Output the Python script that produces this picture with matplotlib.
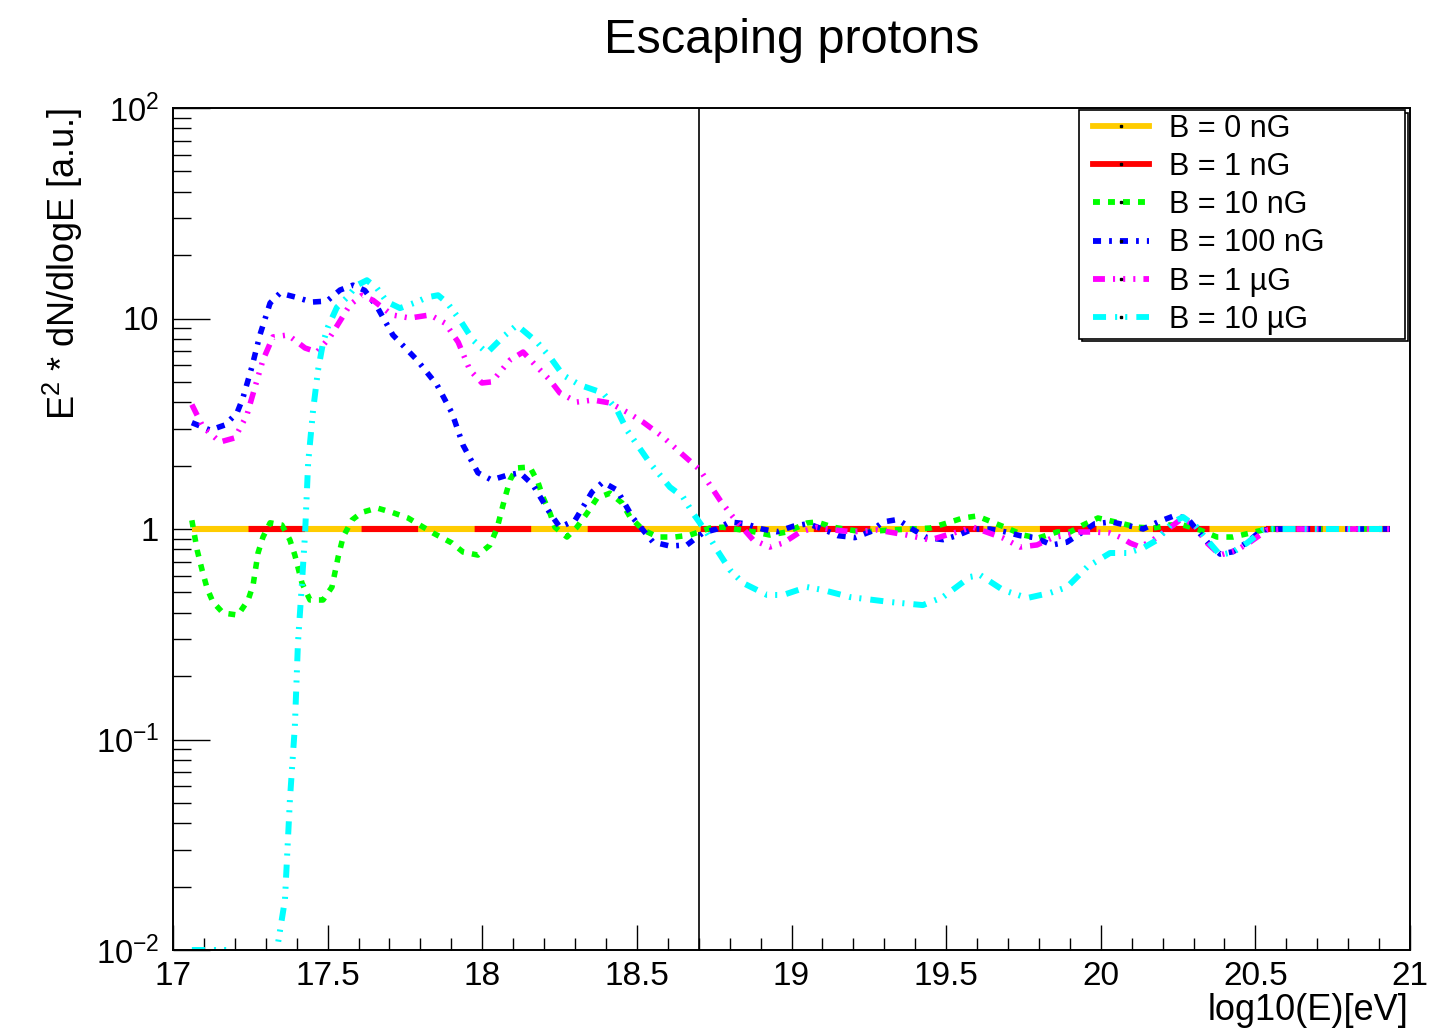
import matplotlib
matplotlib.use("Agg")
import matplotlib.pyplot as plt
from matplotlib.lines import Line2D
from matplotlib.legend_handler import HandlerLine2D
from matplotlib.ticker import FixedLocator, FixedFormatter, LogLocator, NullFormatter

plt.rcParams['font.family'] = ['Liberation Sans', 'DejaVu Sans']
plt.rcParams['mathtext.fontset'] = 'custom'
plt.rcParams['mathtext.rm'] = 'Liberation Sans'
plt.rcParams['mathtext.it'] = 'Liberation Sans:italic'
plt.rcParams['mathtext.default'] = 'regular'
plt.rcParams['lines.scale_dashes'] = False

# ---- spectra: x = log10(E/eV), y = E^2 dN/dlogE (arbitrary units) ----
b0_x = [17.061, 20.935]
b0_y = [1.0, 1.0]

b1_x = [17.061, 20.935]
b1_y = [1.0, 1.0]

b10_x = [17.061, 17.078, 17.094, 17.11, 17.129, 17.162, 17.21, 17.243, 17.259, 17.275,
         17.291, 17.314, 17.352, 17.378, 17.394, 17.417, 17.443, 17.485, 17.514, 17.534,
         17.55, 17.579, 17.611, 17.66, 17.708, 17.76, 17.841, 17.902, 17.938, 17.986,
         18.025, 18.048, 18.074, 18.09, 18.112, 18.154, 18.18, 18.196, 18.219, 18.235,
         18.274, 18.306, 18.339, 18.371, 18.413, 18.452, 18.478, 18.52, 18.568, 18.623,
         18.672, 18.736, 18.778, 18.882, 18.93, 18.985, 19.05, 19.082, 19.134, 19.231,
         19.318, 19.448, 19.503, 19.555, 19.60, 19.648, 19.697, 19.749, 19.797, 19.859,
         19.901, 19.943, 19.991, 20.062, 20.117, 20.169, 20.224, 20.266, 20.321, 20.376,
         20.428, 20.483, 20.538, 20.7, 20.935]
b10_y = [1.1, 0.795, 0.639, 0.524, 0.45, 0.399, 0.39, 0.46, 0.542, 0.77,
         0.916, 1.07, 1.045, 0.887, 0.752, 0.554, 0.46, 0.46, 0.53, 0.736,
         0.916, 1.104, 1.2, 1.258, 1.2, 1.128, 0.957, 0.858, 0.777, 0.752,
         0.839, 1.01, 1.42, 1.71, 1.95, 1.97, 1.67, 1.42, 1.19, 1.02,
         0.916, 1.02, 1.19, 1.40, 1.48, 1.33, 1.14, 0.99, 0.916, 0.916,
         0.936, 1.01, 1.02, 0.968, 0.936, 0.968, 1.068, 1.08, 1.02, 0.968,
         0.989, 1.01, 1.068, 1.128, 1.153, 1.08, 1.01, 0.936, 0.906, 0.968,
         0.968, 1.045, 1.128, 1.068, 1.02, 1.01, 1.045, 1.045, 0.989, 0.916,
         0.916, 0.957, 1.0, 1.0, 1.0]

b100_x = [17.061, 17.12, 17.168, 17.207, 17.226, 17.255, 17.281, 17.314, 17.346, 17.395,
          17.449, 17.498, 17.54, 17.582, 17.62, 17.66, 17.711, 17.789, 17.854, 17.902,
          17.938, 17.986, 18.03, 18.08, 18.122, 18.164, 18.219, 18.251, 18.30, 18.355,
          18.39, 18.436, 18.487, 18.552, 18.607, 18.662, 18.714, 18.759, 18.80, 18.85,
          18.905, 18.953, 19.005, 19.053, 19.10, 19.15, 19.205, 19.254, 19.296, 19.344,
          19.39, 19.438, 19.49, 19.535, 19.587, 19.642, 19.69, 19.739, 19.787, 19.842,
          19.89, 19.933, 19.981, 20.036, 20.085, 20.137, 20.185, 20.234, 20.279, 20.321,
          20.353, 20.386, 20.428, 20.476, 20.521, 20.57, 20.7, 20.8, 20.935]
b100_y = [3.2, 2.95, 3.12, 3.56, 4.19, 5.88, 8.35, 11.85, 13.2, 12.65,
          11.97, 12.1, 13.65, 14.4, 13.6, 11.35, 8.35, 6.35, 4.83, 3.56,
          2.5, 1.85, 1.71, 1.80, 1.85, 1.62, 1.19, 1.02, 1.10, 1.5,
          1.67, 1.53, 1.13, 0.867, 0.83, 0.84, 0.96, 1.0, 1.08, 1.06,
          1.0, 0.97, 1.03, 1.06, 1.0, 0.93, 0.91, 0.97, 1.08, 1.11,
          1.0, 0.91, 0.89, 0.93, 1.0, 1.0, 0.97, 0.93, 0.91, 0.84,
          0.865, 0.95, 1.06, 1.08, 1.04, 1.0, 1.08, 1.15, 1.13, 0.95,
          0.84, 0.76, 0.78, 0.87, 0.99, 1.0, 1.0, 1.0, 1.0]

b1u_x = [17.061, 17.097, 17.152, 17.20, 17.239, 17.265, 17.291, 17.323, 17.372, 17.427,
         17.466, 17.508, 17.546, 17.572, 17.611, 17.647, 17.708, 17.766, 17.831, 17.88,
         17.922, 17.96, 17.999, 18.031, 18.09, 18.132, 18.177, 18.219, 18.251, 18.306,
         18.358, 18.413, 18.468, 18.52, 18.584, 18.649, 18.704, 18.736, 18.769, 18.811,
         18.876, 18.93, 18.973, 19.028, 19.082, 19.134, 19.199, 19.276, 19.373, 19.448,
         19.535, 19.587, 19.684, 19.739, 19.794, 19.842, 19.933, 19.975, 20.03, 20.069,
         20.095, 20.127, 20.169, 20.214, 20.256, 20.298, 20.344, 20.386, 20.441, 20.483,
         20.538, 20.6, 20.75, 20.935]
b1u_y = [3.9, 3.05, 2.59, 2.71, 3.48, 4.72, 6.35, 8.17, 8.35, 7.24,
         6.93, 8.17, 10.05, 11.6, 12.9, 12.2, 10.4, 10.05, 10.4, 9.5,
         7.73, 5.69, 4.94, 5.0, 6.35, 6.93, 5.89, 5.1, 4.43, 4.01,
         4.1, 3.97, 3.59, 3.22, 2.74, 2.25, 1.91, 1.62, 1.37, 1.14,
         0.887, 0.821, 0.858, 0.968, 1.02, 0.99, 0.97, 0.99, 0.936, 0.887,
         0.968, 1.02, 0.906, 0.821, 0.84, 0.906, 0.968, 0.968, 0.957, 0.906,
         0.858, 0.821, 0.887, 0.989, 1.104, 1.068, 0.858, 0.752, 0.795, 0.867,
         0.989, 1.0, 1.0, 1.0]

b10u_x = [17.061, 17.19, 17.26, 17.336, 17.362, 17.378, 17.394, 17.404, 17.417, 17.427,
          17.437, 17.453, 17.469, 17.485, 17.501, 17.53, 17.563, 17.595, 17.627, 17.66,
          17.692, 17.734, 17.783, 17.821, 17.857, 17.886, 17.928, 17.97, 18.015, 18.067,
          18.112, 18.177, 18.219, 18.261, 18.316, 18.39, 18.436, 18.468, 18.542, 18.607,
          18.649, 18.681, 18.727, 18.759, 18.801, 18.843, 18.921, 18.973, 19.05, 19.102,
          19.189, 19.318, 19.425, 19.49, 19.577, 19.61, 19.684, 19.762, 19.836, 19.891,
          19.956, 20.03, 20.085, 20.137, 20.182, 20.234, 20.266, 20.311, 20.344, 20.386,
          20.428, 20.473, 20.525, 20.557, 20.7, 20.935]
b10u_y = [0.01, 0.01, 0.006, 0.01, 0.0173, 0.0516, 0.115, 0.287, 0.554, 0.95,
          2.06, 3.67, 5.69, 7.65, 9.12, 11.3, 12.6, 14.4, 15.2, 13.9,
          12.0, 11.2, 11.9, 12.6, 12.9, 11.9, 9.84, 7.9, 6.86, 8.17,
          9.3, 7.73, 6.56, 5.39, 4.83, 4.43, 3.67, 2.95, 2.06, 1.58,
          1.42, 1.19, 0.957, 0.795, 0.639, 0.554, 0.486, 0.486, 0.53, 0.513,
          0.475, 0.45, 0.435, 0.475, 0.592, 0.604, 0.513, 0.47, 0.497, 0.53,
          0.66, 0.769, 0.769, 0.812, 0.887, 1.08, 1.14, 1.02, 0.887, 0.752,
          0.777, 0.858, 0.989, 1.0, 1.0, 1.0]

series_labels = ['B = 0 nG', 'B = 1 nG', 'B = 10 nG', 'B = 100 nG',
                 'B = 1 \u00b5G', 'B = 10 \u00b5G']

x_tick_values = [17, 17.5, 18, 18.5, 19, 19.5, 20, 20.5, 21]
x_tick_labels = ['17', '17.5', '18', '18.5', '19', '19.5', '20', '20.5', '21']
y_tick_values = [0.01, 0.1, 1, 10, 100]
y_tick_labels = [r'$10^{-2}$', r'$10^{-1}$', '1', '10', r'$10^{2}$']
marker_energy = 18.7

# ---- styles ----
c_orange = '#ffcc00'
c_red = '#ff0000'
c_green = '#00ff00'
c_blue = '#0000ff'
c_magenta = '#ff00ff'
c_cyan = '#00ffff'

ls_solid = '-'
ls_red = (40.7, (40.7, 40.7))
ls_green = (0, (5.0, 5.8))
ls_blue = (0, (5.8, 5.8, 2.0, 5.8))
ls_magenta = (0, (8.6, 5.8, 1.5, 5.8, 1.5, 5.8, 1.5, 5.8))
ls_cyan = (0, (9.4, 6.5, 1.5, 5.8, 1.5, 6.5))

W, H = 1435, 1034
fig = plt.figure(figsize=(W / 100, H / 100), dpi=100)
ax = fig.add_axes([173 / W, 1 - 950 / H, (1410 - 173) / W, (950 - 108) / H])

ax.set_yscale('log')
ax.set_xlim(17, 21)
ax.set_ylim(0.01, 100)

ax.plot(b0_x, b0_y, color=c_orange, lw=4.4, ls=ls_solid, solid_capstyle='butt')
ax.plot(b1_x, b1_y, color=c_red, lw=4.4, ls=ls_red, dash_capstyle='butt')
ax.plot(b10_x, b10_y, color=c_green, lw=4.0, ls=ls_green, dash_capstyle='butt')
ax.plot(b100_x, b100_y, color=c_blue, lw=4.0, ls=ls_blue, dash_capstyle='butt')
ax.plot(b1u_x, b1u_y, color=c_magenta, lw=4.0, ls=ls_magenta, dash_capstyle='butt')
ax.plot(b10u_x, b10u_y, color=c_cyan, lw=4.3, ls=ls_cyan, dash_capstyle='butt')

ax.axvline(marker_energy, color='black', lw=1.2, zorder=1)

# ---- axes ----
ax.xaxis.set_major_locator(FixedLocator(x_tick_values))
ax.xaxis.set_major_formatter(FixedFormatter(x_tick_labels))
ax.xaxis.set_minor_locator(FixedLocator([17 + 0.1 * i for i in range(41)]))
ax.yaxis.set_major_locator(FixedLocator(y_tick_values))
ax.yaxis.set_major_formatter(FixedFormatter(y_tick_labels))
ax.yaxis.set_minor_locator(LogLocator(base=10, subs=range(2, 10), numticks=20))
ax.yaxis.set_minor_formatter(NullFormatter())

ax.tick_params(which='both', direction='in', top=False, right=False, width=1.0,
               colors='black')
ax.tick_params(axis='x', which='major', length=18, pad=8, labelsize=24)
ax.tick_params(axis='x', which='minor', length=8.6)
ax.tick_params(axis='y', which='major', length=26.6, pad=10, labelsize=23.5)
ax.tick_params(axis='y', which='minor', length=13)
for s in ax.spines.values():
    s.set_linewidth(1.4)

fig.text(791.5 / W, 1 - 53 / H, 'Escaping protons', fontsize=35,
         ha='center', va='baseline')
fig.text(1408 / W, 1 - 1020 / H, 'log10(E)[eV]', fontsize=26,
         ha='right', va='baseline')
fig.text(63 / W, 1 - 108 / H, r'E$^{2}$ * dN/dlogE [a.u.]', fontsize=26,
         rotation=90, ha='center', va='top')

# ---- legend ----
leg_fs = 22
handles = []
for col, ls in [(c_orange, ls_solid), (c_red, ls_solid), (c_green, ls_green),
                (c_blue, ls_blue), (c_magenta, ls_magenta), (c_cyan, ls_cyan)]:
    handles.append(Line2D([], [], color=col, ls=ls, lw=4.2, dash_capstyle='butt',
                          marker='s', markersize=2, markerfacecolor='black',
                          markeredgecolor='black'))
x0, y0 = 1079 / W, 1 - 340 / H
leg = fig.legend(handles, series_labels, loc='upper left',
                 bbox_to_anchor=(x0, y0, (1405 - 1079) / W, (340 - 110) / H),
                 mode='expand', fontsize=leg_fs, handlelength=2.16, handletextpad=0.65,
                 borderpad=0.12, labelspacing=0.27, numpoints=1, fancybox=False,
                 borderaxespad=0.0,
                 handler_map={Line2D: HandlerLine2D(xpad=0.33)},
                 shadow={'facecolor': 'none', 'edgecolor': 'black', 'alpha': 1,
                         'linewidth': 1.2})
leg.get_frame().set_edgecolor('black')
leg.get_frame().set_linewidth(1.2)

fig.savefig('out.png', dpi=100)
